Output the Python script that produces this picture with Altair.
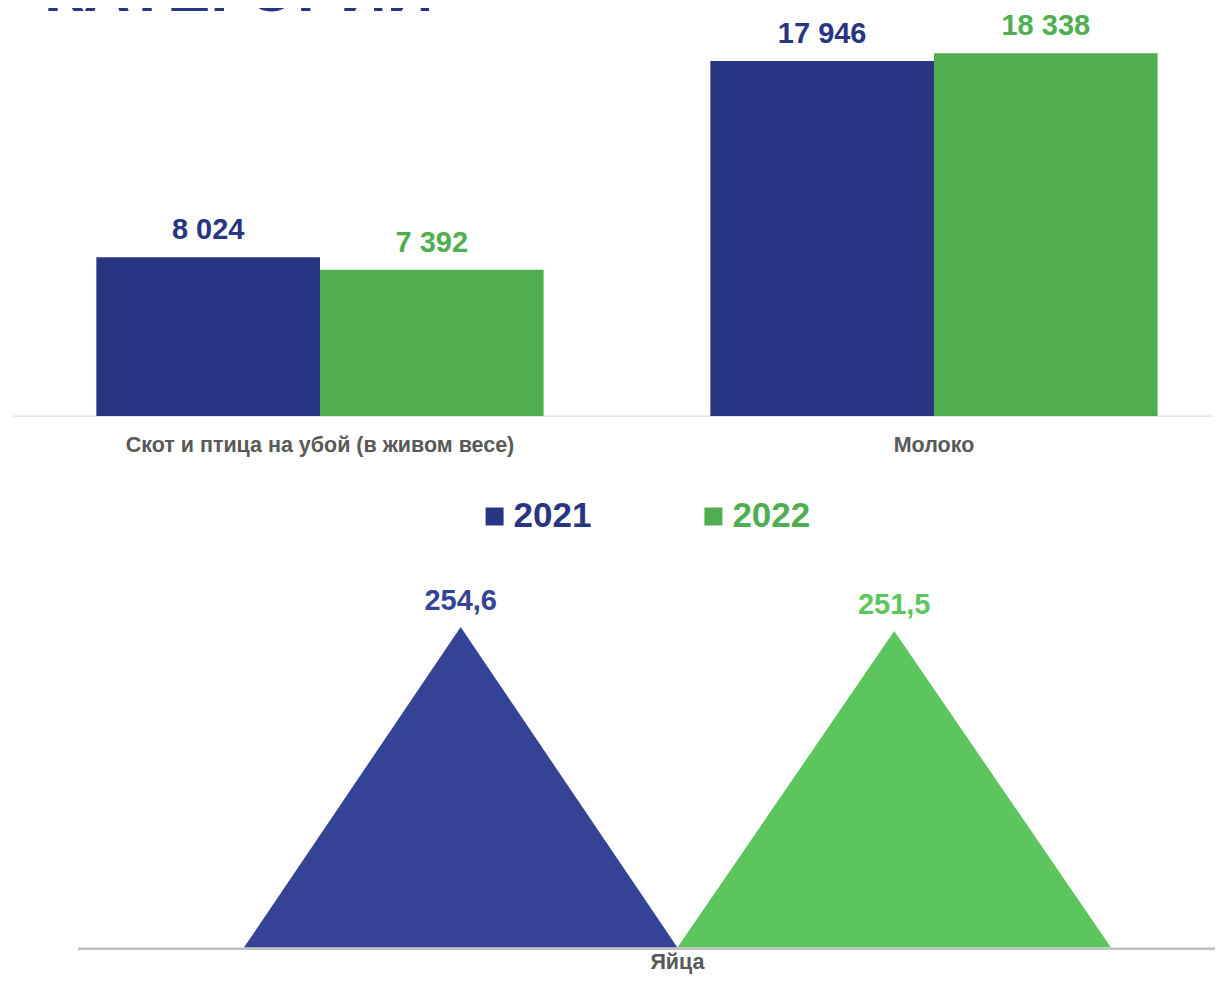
import altair as alt
import pandas as pd

FONT = "Liberation Sans"

title_text = "КАТЕГОРИЙ"
years = ["2021", "2022"]
categories = ["Скот и птица на убой (в живом весе)", "Молоко"]
values_2021 = [8024, 17946]
values_2022 = [7392, 18338]
egg_category = "Яйца"
egg_values = [254.6, 251.5]

top_colors = ["#283583", "#4FAE4F"]
egg_colors = ["#344396", "#5CC55D"]
label_gray = "#595959"

TOP_W = 1201
TOP_H = 408
EGG_W = 1138
EGG_H = 368

# ---------- top: grouped bars ----------
rows = []
for c, a, b in zip(categories, values_2021, values_2022):
    rows.append({"category": c, "year": years[0], "value": a})
    rows.append({"category": c, "year": years[1], "value": b})
bars_df = pd.DataFrame(rows)
cat_df = pd.DataFrame({"category": categories})

color_top = alt.Color("year:N", scale=alt.Scale(domain=years, range=top_colors), legend=None)
x_cat_scale = alt.Scale(paddingInner=0, paddingOuter=0, range=[0, 1229])

base = alt.Chart(bars_df).encode(
    x=alt.X("category:N", sort=categories, scale=x_cat_scale, axis=None),
    xOffset=alt.XOffset("year:N", sort=years,
                        scale=alt.Scale(paddingInner=0, paddingOuter=0.3728)),
    y=alt.Y("value:Q", scale=alt.Scale(domain=[0, 20600]), axis=None),
    color=color_top,
)
bars = base.mark_bar()
bar_labels = base.transform_calculate(
    label="replace(format(datum.value, ','), ',', ' ')"
).mark_text(dy=-18, baseline="alphabetic", fontSize=29, fontWeight="bold", font=FONT).encode(
    text="label:N"
)
cat_labels = alt.Chart(cat_df).mark_text(
    baseline="top", fontSize=21.5, fontWeight="bold", font=FONT, color=label_gray
).encode(
    x=alt.X("category:N", sort=categories, bandPosition=0.5, scale=x_cat_scale, axis=None),
    y=alt.value(TOP_H + 19),
    text="category:N",
)
baseline_rule = alt.Chart(pd.DataFrame({"a": [0]})).mark_rule(color="#d9d9d9", strokeWidth=1).encode(
    x=alt.value(0), x2=alt.value(TOP_W), y=alt.value(TOP_H)
)
title = alt.Chart(pd.DataFrame({"t": [title_text]})).mark_text(
    align="left", baseline="alphabetic", fontSize=65, fontWeight="bold",
    font=FONT, color="#283583"
).encode(text="t:N", x=alt.value(31), y=alt.value(3))

top = alt.layer(baseline_rule, bars, bar_labels, cat_labels, title).properties(width=TOP_W, height=TOP_H)

# ---------- legend ----------
legend_df = pd.DataFrame({"year": years})
leg_base = alt.Chart(legend_df).encode(
    x=alt.X("year:N", scale=alt.Scale(type="point", domain=years, range=[482, 701], padding=0),
            axis=None),
    y=alt.value(21),
    color=color_top,
)
leg_sq = leg_base.mark_square(size=324, opacity=1)
leg_txt = leg_base.mark_text(align="left", baseline="middle", dx=19, fontSize=35,
                             fontWeight="bold", font=FONT).encode(text="year:N")
legend = alt.layer(leg_sq, leg_txt).properties(width=TOP_W, height=46)

# ---------- bottom: triangles ----------
half = 0.1808
offsets = [-half, half]
tri_rows = []
for yr, v, off in zip(years, egg_values, offsets):
    tri_rows.append({"series": yr, "x": off - half, "y": 0})
    tri_rows.append({"series": yr, "x": off, "y": v})
    tri_rows.append({"series": yr, "x": off + half, "y": 0})
tri_df = pd.DataFrame(tri_rows)
egg_df = pd.DataFrame({"series": years, "x": offsets, "value": egg_values})
egg_cat_df = pd.DataFrame({"label": [egg_category], "x": [0.0]})

x_egg_scale = alt.Scale(domain=[-0.5, -0.5 + EGG_W / 1200], nice=False, zero=False)
y_scale_egg = alt.Scale(domain=[0, 292], nice=False)
color_egg = alt.Color("series:N", scale=alt.Scale(domain=years, range=egg_colors), legend=None)

tri = alt.Chart(tri_df).mark_area(opacity=1).encode(
    x=alt.X("x:Q", scale=x_egg_scale, axis=None),
    y=alt.Y("y:Q", stack=None, scale=y_scale_egg, axis=None),
    color=color_egg,
)
egg_labels = alt.Chart(egg_df).transform_calculate(
    label="replace(format(datum.value, '.1f'), '.', ',')"
).mark_text(dy=-17, baseline="alphabetic", fontSize=29, fontWeight="bold", font=FONT).encode(
    x=alt.X("x:Q", scale=x_egg_scale, axis=None),
    y=alt.Y("value:Q", scale=y_scale_egg, axis=None),
    color=color_egg,
    text="label:N",
)
egg_rule = alt.Chart(pd.DataFrame({"a": [0]})).mark_rule(color="#bfbfbf", strokeWidth=2.5).encode(
    x=alt.value(0), x2=alt.value(EGG_W), y=alt.value(EGG_H + 1.2)
)
egg_cat_label = alt.Chart(egg_cat_df).mark_text(
    baseline="top", fontSize=21.5, fontWeight="bold", font=FONT, color=label_gray
).encode(
    x=alt.X("x:Q", scale=x_egg_scale, axis=None),
    y=alt.value(EGG_H + 4),
    text="label:N",
)
eggs = alt.layer(tri, egg_rule, egg_labels, egg_cat_label).properties(width=EGG_W, height=EGG_H)

spacer = alt.Chart(pd.DataFrame({"a": [0]})).mark_point(opacity=0, size=0).encode(
    x=alt.value(1), y=alt.value(1)
).properties(width=63, height=EGG_H)

bottom = alt.hconcat(spacer, eggs, spacing=0)

chart = alt.vconcat(top, legend, bottom, spacing=38.5).resolve_scale(color="independent").configure(
    padding={"left": 4, "top": -49, "right": 0, "bottom": 0},
    background="white",
).configure_view(stroke=None)

chart.save("out.html", embed_options={"renderer": "svg", "actions": False})
